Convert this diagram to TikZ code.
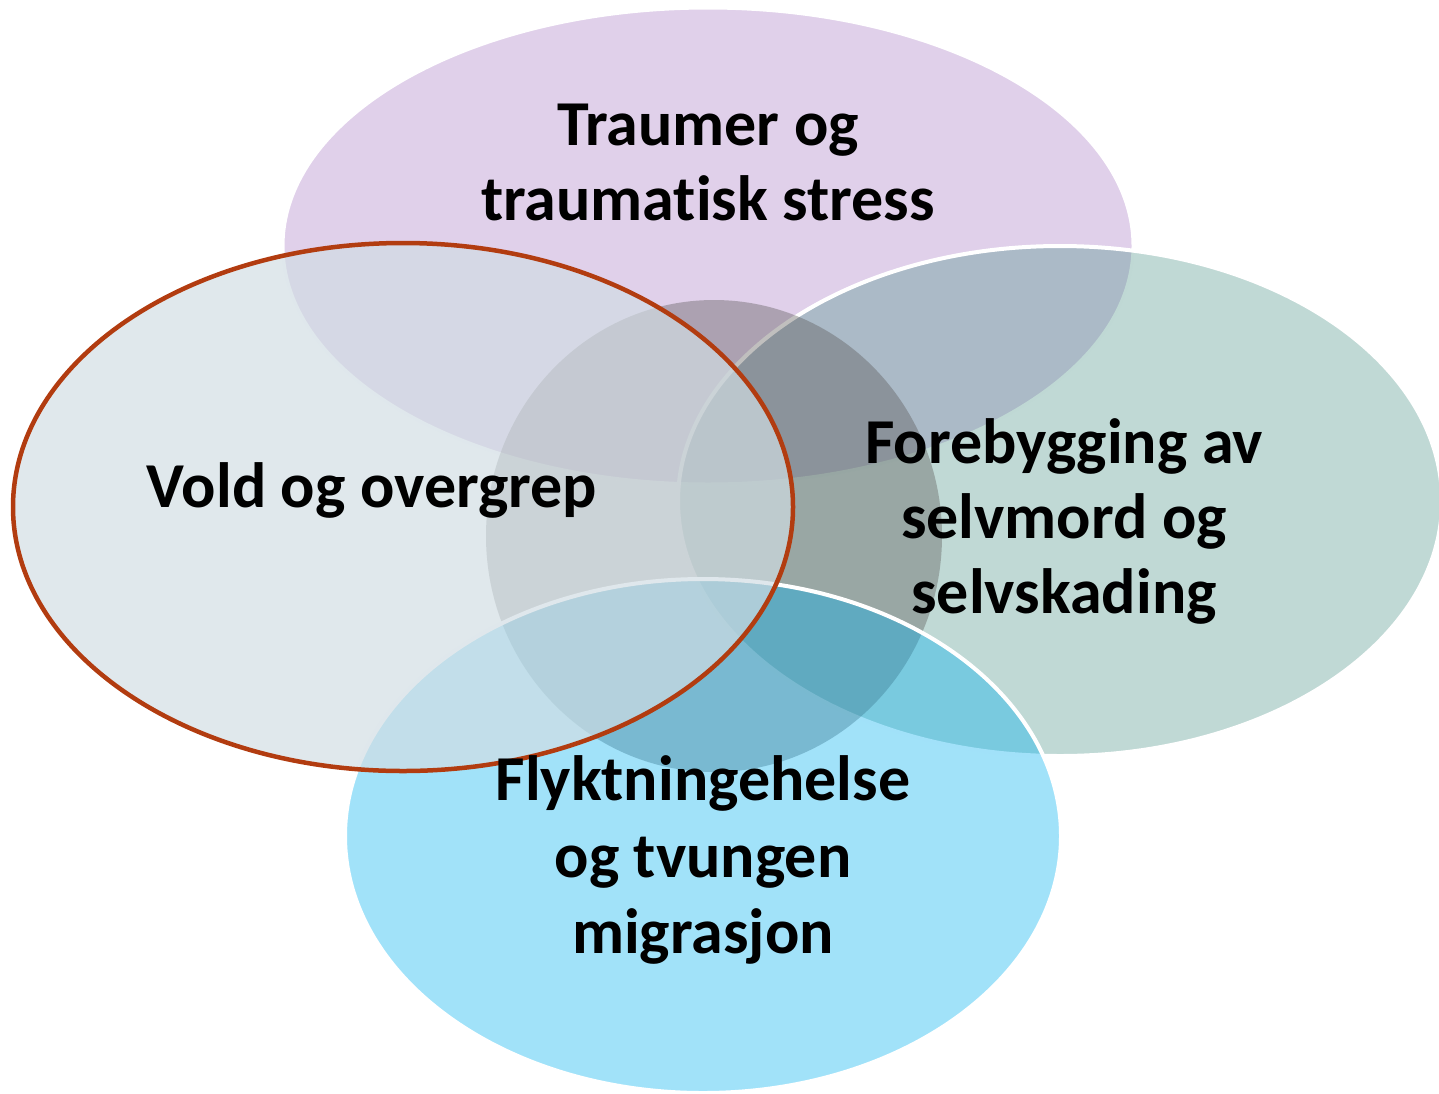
\documentclass[tikz,border=0pt]{standalone}
\usepackage{fontspec}
\setmainfont{Carlito}[Ligatures=NoCommon]
\definecolor{purpfill}{RGB}{224,208,234}
\definecolor{greenfill}{RGB}{78,148,137}
\definecolor{centerfill}{RGB}{85,82,80}
\definecolor{bluefill}{RGB}{0,176,240}
\definecolor{leftfill}{RGB}{209,221,227}
\definecolor{leftline}{RGB}{178,60,16}
\tikzset{
  lbl/.style={anchor=base, font=\fontsize{64}{76}\selectfont\bfseries, text=black, inner sep=0pt},
}
\begin{document}
\begin{tikzpicture}[x=1pt,y=-1pt]
\useasboundingbox (0,0) rectangle (1439,1093);
\clip (0,0) rectangle (1439,1093);
% purple (top)
\path[fill=purpfill, draw=white, line width=3pt] (708,246) ellipse [x radius=425pt, y radius=238pt];
% green (right)
\path[fill=greenfill, fill opacity=0.355, draw=white, line width=4pt] (1060,501) ellipse [x radius=382pt, y radius=255pt];
% center circle
\path[fill=centerfill, fill opacity=0.37] (714,536) ellipse [x radius=228pt, y radius=236pt];
% blue (bottom)
\path[fill=bluefill, fill opacity=0.37, draw=white, line width=4pt] (703,836) ellipse [x radius=358pt, y radius=257pt];
% left
\path[fill=leftfill, fill opacity=0.68, draw=leftline, line width=4.5pt] (403,507) ellipse [x radius=390pt, y radius=264pt];
% labels
\node[lbl] (t1a) at (708,145) {Traumer og};
\node[lbl] (t1b) at (708,220) {traumatisk stress};
\node[lbl] (t2) at (372,507) {Vold og overgrep};
\node[lbl] (t3a) at (1064,463) {Forebygging av};
\node[lbl] (t3b) at (1064,538) {selvmord og};
\node[lbl] (t3c) at (1064,613) {selvskading};
\node[lbl] (t4a) at (703,800) {Flyktningehelse};
\node[lbl] (t4b) at (703,877) {og tvungen};
\node[lbl] (t4c) at (703,953) {migrasjon};
\end{tikzpicture}
\end{document}
